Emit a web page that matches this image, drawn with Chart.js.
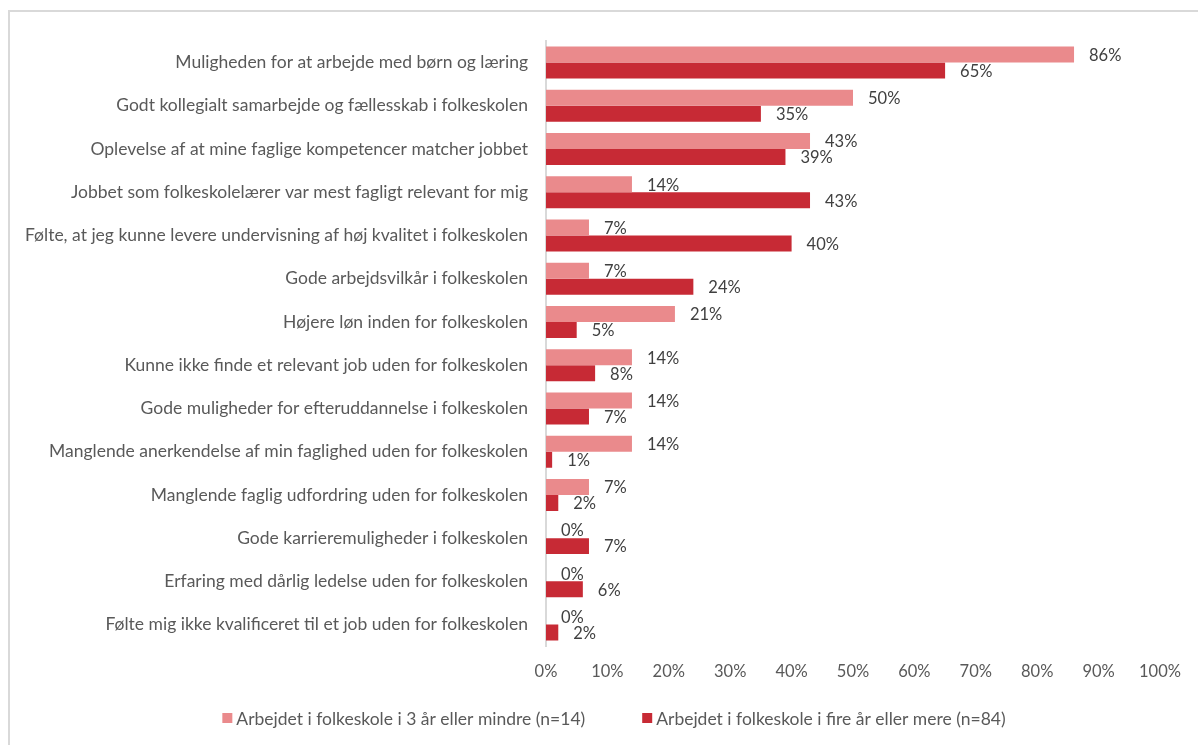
<!DOCTYPE html>
<html>
<head>
<meta charset="utf-8">
<script src="https://cdn.jsdelivr.net/npm/chart.js@4/dist/chart.umd.min.js"></script>
<style>
  html, body { margin: 0; padding: 0; background: #fff; overflow: hidden; }
  #frame { position: absolute; left: 8px; top: 10px; width: 1300px; height: 900px; border: 2px solid #d9d9d9; box-sizing: border-box; }
  #wrap { position: absolute; left: 0; top: 0; width: 1198px; height: 745px; }
</style>
</head>
<body>
<div id="frame"></div>
<div id="wrap"><canvas id="c"></canvas></div>
<script>
const categories = [
  "Muligheden for at arbejde med børn og læring",
  "Godt kollegialt samarbejde og fællesskab i folkeskolen",
  "Oplevelse af at mine faglige kompetencer matcher jobbet",
  "Jobbet som folkeskolelærer var mest fagligt relevant for mig",
  "Følte, at jeg kunne levere undervisning af høj kvalitet i folkeskolen",
  "Gode arbejdsvilkår i folkeskolen",
  "Højere løn inden for folkeskolen",
  "Kunne ikke finde et relevant job uden for folkeskolen",
  "Gode muligheder for efteruddannelse i folkeskolen",
  "Manglende anerkendelse af min faglighed uden for folkeskolen",
  "Manglende faglig udfordring uden for folkeskolen",
  "Gode karrieremuligheder i folkeskolen",
  "Erfaring med dårlig ledelse uden for folkeskolen",
  "Følte mig ikke kvalificeret til et job uden for folkeskolen"
];
const seriesNames = [
  "Arbejdet i folkeskole i 3 år eller mindre (n=14)",
  "Arbejdet i folkeskole i fire år eller mere (n=84)"
];
const shortTenure = [86, 50, 43, 14, 7, 7, 21, 14, 14, 14, 7, 0, 0, 0];
const longTenure  = [65, 35, 39, 43, 40, 24, 5, 8, 7, 1, 2, 7, 6, 2];
const xTicks = [0, 10, 20, 30, 40, 50, 60, 70, 80, 90, 100];

const FONT = "Lato, 'Open Sans', sans-serif";

const valueLabels = {
  id: 'valueLabels',
  afterDatasetsDraw(chart) {
    const ctx = chart.ctx;
    ctx.save();
    ctx.font = "16.5px " + FONT;
    ctx.fillStyle = "#404040";
    ctx.textAlign = "left";
    ctx.textBaseline = "middle";
    chart.data.datasets.forEach((ds, di) => {
      const meta = chart.getDatasetMeta(di);
      meta.data.forEach((el, i) => {
        ctx.fillText(ds.data[i] + "%", el.x + 15, el.y + 1);
      });
    });
    ctx.restore();
  }
};

// legend drawn below the x axis (centred row, wide gap between items like the original)
const bottomLegend = {
  id: 'bottomLegend',
  afterDraw(chart) {
    const ctx = chart.ctx;
    ctx.save();
    ctx.font = "17.5px " + FONT;
    ctx.textBaseline = "middle";
    ctx.textAlign = "left";
    const box = 10, gapBoxText = 4, gapItems = 57;
    const items = chart.data.datasets.map(ds => ({
      text: ds.label, color: ds.backgroundColor,
      w: box + gapBoxText + ctx.measureText(ds.label).width
    }));
    const total = items.reduce((s, it) => s + it.w, 0) + gapItems * (items.length - 1);
    const centreX = 614;
    const y = chart.height - 27;
    let x = centreX - total / 2;
    items.forEach(it => {
      ctx.fillStyle = it.color;
      ctx.fillRect(x, y - box / 2, box, box);
      ctx.fillStyle = '#595959';
      ctx.fillText(it.text, x + box + gapBoxText, y + 1);
      x += it.w + gapItems;
    });
    ctx.restore();
  }
};

new Chart(document.getElementById('c'), {
  type: 'bar',
  data: {
    labels: categories,
    datasets: [
      { label: seriesNames[0], data: shortTenure, backgroundColor: '#EA8A8C', categoryPercentage: 0.74, barPercentage: 1.0 },
      { label: seriesNames[1], data: longTenure, backgroundColor: '#C72A35', categoryPercentage: 0.74, barPercentage: 1.0 }
    ]
  },
  options: {
    indexAxis: 'y',
    responsive: true,
    maintainAspectRatio: false,
    animation: false,
    layout: { padding: { left: 0, right: 38, top: 41, bottom: 47 } },
    plugins: {
      legend: { display: false },
      tooltip: { enabled: false }
    },
    scales: {
      x: {
        min: 0, max: 100,
        afterBuildTicks(scale) { scale.ticks = xTicks.map(v => ({ value: v })); },
        grid: { display: false, drawTicks: false },
        border: { display: false },
        ticks: {
          font: { family: FONT, size: 16.5 },
          color: '#595959',
          padding: 16,
          callback: v => v + '%'
        }
      },
      y: {
        grid: { display: false, drawTicks: false },
        border: { display: true, color: '#d9d9d9', width: 2 },
        afterFit(scale) { scale.width = 546; },
        ticks: {
          font: { family: FONT, size: 17.5 },
          color: '#595959',
          padding: 18,
          autoSkip: false
        }
      }
    }
  },
  plugins: [valueLabels, bottomLegend]
});
</script>
</body>
</html>
